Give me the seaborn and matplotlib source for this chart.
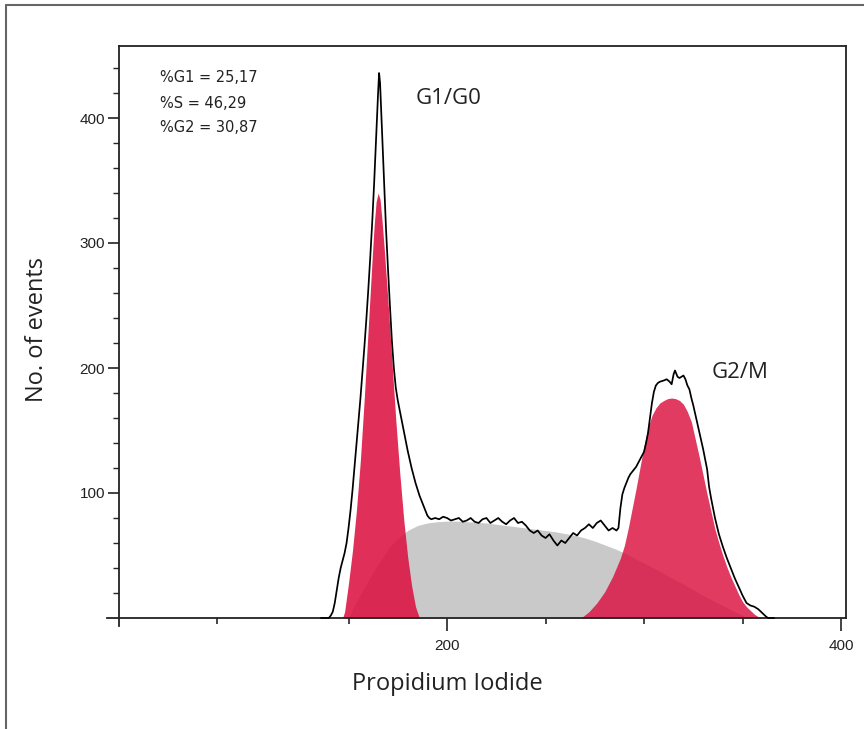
import numpy as np
import pandas as pd
import matplotlib
matplotlib.use("Agg")
import matplotlib.pyplot as plt
from matplotlib.lines import Line2D
import seaborn as sns

# ---------------- data ----------------
# G1/G0 peak (red)
g1_x = [147, 148, 150, 152, 154, 156, 158, 160, 162, 163, 164, 165, 166, 167,
        168, 170, 172, 174, 176, 178, 180, 182, 184, 186]
g1_y = [0, 5, 28, 54, 86, 126, 176, 232, 288, 314, 333, 340, 335, 318,
        298, 254, 206, 158, 116, 79, 49, 26, 9, 0]

# S phase (grey)
s_x = [150, 155, 160, 165, 170, 175, 180, 185, 190, 195, 200, 205, 210, 215,
       220, 225, 230, 235, 240, 245, 250, 255, 260, 265, 270, 275, 280, 285,
       290, 295, 300, 305, 310, 315, 320, 325, 330, 335, 340, 345, 350, 353]
s_y = [0, 16, 30, 43, 55, 64, 70, 74, 76, 77, 77.5, 77.5, 77, 76.5,
       76, 75, 74, 73, 72, 71, 70, 69, 67.5, 66, 64, 61.5, 58.5, 55.5,
       52, 48, 44, 40, 35.5, 31, 27, 22.5, 18, 14, 10, 6, 2, 0]

# G2/M peak (red)
g2_x = [268, 272, 276, 280, 284, 288, 290, 292, 294, 296, 298, 300, 302, 304,
        306, 308, 310, 312, 314, 316, 318, 320, 322, 324, 326, 328, 330, 332,
        334, 336, 338, 340, 342, 344, 346, 348, 350, 352, 354, 356, 358, 360]
g2_y = [0, 5, 12, 21, 33, 48, 58, 72, 88, 104, 121, 138, 152, 162,
        168, 172, 174, 175.5, 176, 175.5, 174, 171, 165, 157, 143, 129, 114, 99,
        85, 71, 60, 50, 41, 33, 26, 19, 13, 9, 6, 3, 1, 0]

# measured histogram envelope (black line)
hist_x = [136, 140, 141, 142, 143, 144, 145, 146, 147, 148, 149, 150, 151, 152,
          153, 154, 155, 156, 157, 158, 159, 160, 161, 162, 163, 164, 165, 165.5,
          166, 167, 168, 169, 170, 171, 172, 173, 174, 175, 176, 177, 178, 179,
          180, 181, 182, 183, 184, 185, 186, 187, 188, 189, 190, 191,
          192, 194, 196, 198, 200, 202, 204, 206, 208, 210, 212, 214, 216, 218,
          220, 222, 224, 226, 228, 230, 232, 234, 236, 238, 240, 242, 244, 246,
          248, 250, 252, 254, 256, 258, 260, 262, 264, 266, 268, 270, 272, 274,
          276, 278, 280, 282, 284, 286, 287,
          288, 289, 290, 291, 292, 293, 294, 296, 298, 300, 301, 302, 303, 304,
          305, 306, 307, 308, 310, 311.5, 313, 314, 315, 315.7, 317, 318, 320,
          321, 322, 323, 324, 325, 326, 327, 328, 330, 331, 332, 333, 334, 335,
          336, 338, 340, 342, 344, 346, 348, 350, 352, 354, 356, 358, 360, 362,
          363, 366]
hist_y = [0, 0, 2, 5, 12, 22, 32, 40, 46, 52, 60, 72, 86, 102,
          120, 138, 156, 175, 195, 216, 238, 262, 288, 316, 348, 385, 420, 436,
          428, 390, 350, 312, 280, 250, 222, 200, 184, 174, 166, 158, 150, 142,
          134, 127, 120, 114, 108, 103, 98, 94, 90, 86, 82, 80,
          79, 80, 79, 81, 80, 78, 79, 80, 77, 78, 80, 77, 76, 79,
          80, 76, 78, 80, 77, 75, 78, 80, 76, 77, 74, 70, 68, 70,
          66, 64, 67, 62, 58, 62, 60, 64, 68, 66, 70, 72, 75, 72,
          76, 78, 74, 70, 72, 70, 72,
          88, 99, 104, 108, 112, 115, 117, 121, 127, 133, 140, 148, 160, 172,
          181, 186, 188, 189, 190, 191, 189, 187, 195, 198, 193, 192, 194,
          191, 186, 183, 176, 170, 163, 156, 149, 135, 127, 119, 105, 96, 88,
          80, 67, 57, 48, 40, 32, 25, 18, 12, 10, 9, 7, 4, 1,
          0, 0]

stats_lines = ["%G1 = 25,17", "%S = 46,29", "%G2 = 30,87"]
x_major = [200, 400]
x_minor = [83, 150, 250, 300, 350]
y_major = [100, 200, 300, 400]
y_minor = [20, 40, 60, 80, 120, 140, 160, 180, 220, 240, 260, 280,
           320, 340, 360, 380, 420, 440]

# ---------------- style ----------------
sns.set_style("ticks")
plt.rcParams['font.family'] = ['Liberation Sans', 'DejaVu Sans']

RED = '#dc1040'
GREY = '#c9c9c9'
LABEL_FONT = ['Open Sans', 'DejaVu Sans']
INK = '#222222'

fig = plt.figure(figsize=(8.64, 7.29), dpi=100)
ax = fig.add_axes([107 / 864, 1 - 625.5 / 729, 739 / 864, 579.5 / 729])

ax.fill_between(s_x, 0, s_y, color=GREY, lw=0, zorder=1)
ax.fill_between(g1_x, 0, g1_y, color=RED, alpha=0.87, lw=0, zorder=2)
ax.fill_between(g2_x, 0, g2_y, color=RED, alpha=0.82, lw=0, zorder=2)

df = pd.DataFrame({"x": hist_x, "y": hist_y})
sns.lineplot(data=df, x="x", y="y", ax=ax, color="black", lw=1.25,
             estimator=None, sort=False, zorder=3)

ax.set_xlim(27.4, 402.5)
ax.set_ylim(-6, 457.6)

# spines
for s in ax.spines.values():
    s.set_linewidth(1.3)
    s.set_color(INK)
ax.spines['left'].set_position(('data', 33.5))
ax.spines['left'].set_bounds(-6, 457.6)
ax.spines['bottom'].set_position(('data', 0))
ax.spines['bottom'].set_bounds(27.4, 402.5)
ax.spines['top'].set_bounds(33.5, 402.5)
ax.spines['right'].set_bounds(0, 457.6)

ax.set_xticks(x_major)
ax.set_xticklabels([str(v) for v in x_major])
ax.set_xticks(x_minor, minor=True)
ax.set_yticks(y_major)
ax.set_yticklabels([str(v) for v in y_major])
ax.set_yticks(y_minor, minor=True)
ax.tick_params(axis='x', which='major', length=9, width=1.2, pad=6, labelsize=11, colors=INK)
ax.tick_params(axis='x', which='minor', length=4, width=1.2)
ax.tick_params(axis='y', which='major', length=8, width=1.2, pad=2, labelsize=11, colors=INK)
ax.tick_params(axis='y', which='minor', length=4.5, width=1.0)

ax.set_xlabel("Propidium Iodide", fontsize=17, family=LABEL_FONT, color=INK)
ax.set_ylabel("No. of events", fontsize=17, family=LABEL_FONT, color=INK)
ax.xaxis.set_label_coords(0.46, -0.08)
ax.yaxis.set_label_coords(-0.079, 0.51)

for i, line in enumerate(stats_lines):
    ax.text(54.3, 432 - i * 20, line, fontsize=10.5, family=['DejaVu Sans'],
            ha='left', va='center', color=INK)

ax.text(183.8, 416, "G1/G0", fontsize=16, family=LABEL_FONT, ha='left', va='center', color=INK)
ax.text(334.5, 196, "G2/M", fontsize=16, family=LABEL_FONT, ha='left', va='center', color=INK)

# outer frame lines of the figure panel
fig.add_artist(Line2D([5.5 / 864, 5.5 / 864], [0, 1 - 5 / 729], transform=fig.transFigure,
                      color='#666666', lw=1.5))
fig.add_artist(Line2D([5.5 / 864, 1], [1 - 5 / 729, 1 - 5 / 729], transform=fig.transFigure,
                      color='#666666', lw=1.5))

fig.savefig("out.png", dpi=100, facecolor='white')
